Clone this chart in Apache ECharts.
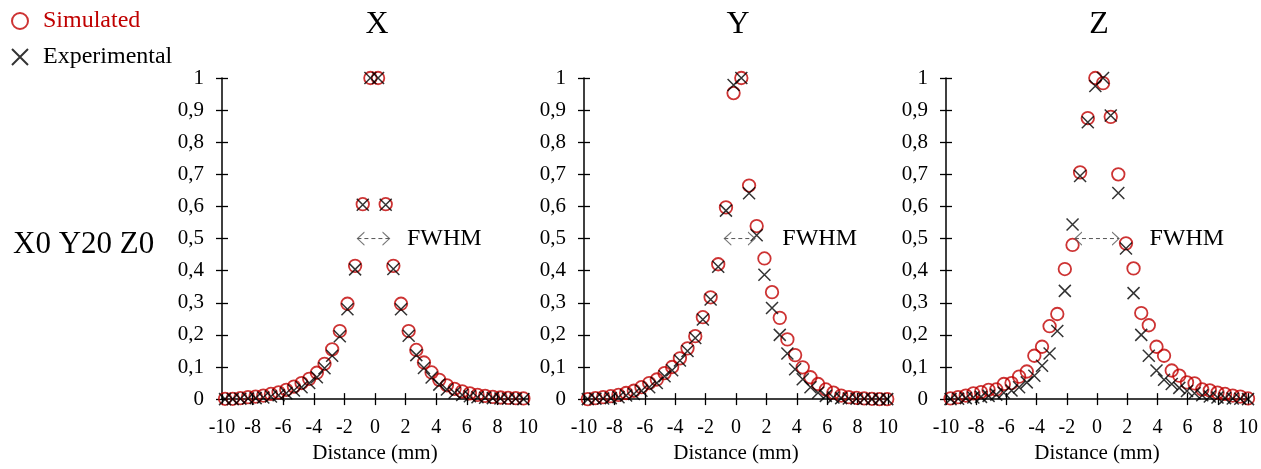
<!DOCTYPE html>
<html>
<head>
<meta charset="utf-8">
<script src="https://cdn.jsdelivr.net/npm/echarts@6/dist/echarts.min.js"></script>
<style>
  html, body { margin: 0; padding: 0; background: #fff; }
  #chart { width: 1261px; height: 469px; }
</style>
</head>
<body>
<div id="chart"></div>
<script>
// Normalised dose profiles along X, Y and Z (distance in mm)
const panelTitles = ['X', 'Y', 'Z'];
const caseLabel = 'X0 Y20 Z0';
const xTickLabels = ['-10', '-8', '-6', '-4', '-2', '0', '2', '4', '6', '8', '10'];
const yTickLabels = ['0', '0,1', '0,2', '0,3', '0,4', '0,5', '0,6', '0,7', '0,8', '0,9', '1'];

// Sample positions (mm) for each profile
const posX = [-9.8, -9.3, -8.8, -8.3, -7.8, -7.3, -6.8, -6.3, -5.8, -5.3,
  -4.8, -4.3, -3.8, -3.3, -2.8, -2.3, -1.8, -1.3, -0.8, -0.3,
  0.2, 0.7, 1.2, 1.7, 2.2, 2.7, 3.2, 3.7, 4.2, 4.7,
  5.2, 5.7, 6.2, 6.7, 7.2, 7.7, 8.2, 8.7, 9.2, 9.7];
const posY = [-9.75, -9.25, -8.74, -8.24, -7.73, -7.23, -6.72, -6.22, -5.71, -5.21,
  -4.7, -4.2, -3.69, -3.19, -2.68, -2.18, -1.67, -1.17, -0.66, -0.16,
  0.35, 0.86, 1.36, 1.87, 2.37, 2.88, 3.38, 3.89, 4.39, 4.9,
  5.4, 5.91, 6.41, 6.92, 7.42, 7.93, 8.43, 8.94, 9.44, 9.95];
const posZ = [-9.7, -9.2, -8.69, -8.19, -7.68, -7.18, -6.67, -6.17, -5.66, -5.16,
  -4.65, -4.15, -3.64, -3.14, -2.63, -2.13, -1.62, -1.12, -0.61, -0.11,
  0.4, 0.91, 1.41, 1.92, 2.42, 2.93, 3.43, 3.94, 4.44, 4.95,
  5.45, 5.96, 6.46, 6.97, 7.47, 7.98, 8.48, 8.99, 9.49, 10.0];

// Simulated profiles
const simX = [0.001, 0.001, 0.003, 0.006, 0.008, 0.011, 0.016, 0.021, 0.029, 0.039,
  0.05, 0.063, 0.082, 0.11, 0.155, 0.212, 0.297, 0.415, 0.607, 1.0,
  1.0, 0.607, 0.415, 0.297, 0.212, 0.153, 0.114, 0.083, 0.06, 0.043,
  0.032, 0.024, 0.018, 0.013, 0.01, 0.007, 0.005, 0.004, 0.003, 0.002];
const simY = [0, 0.003, 0.006, 0.009, 0.013, 0.019, 0.026, 0.037, 0.05, 0.061,
  0.081, 0.1, 0.127, 0.158, 0.196, 0.255, 0.317, 0.42, 0.597, 0.953,
  1.0, 0.665, 0.539, 0.438, 0.333, 0.253, 0.186, 0.137, 0.099, 0.068,
  0.047, 0.03, 0.02, 0.011, 0.006, 0.004, 0.002, 0.001, 0, 0];
const simZ = [0.002, 0.006, 0.011, 0.018, 0.022, 0.029, 0.03, 0.047, 0.05, 0.07,
  0.086, 0.135, 0.163, 0.227, 0.265, 0.405, 0.48, 0.706, 0.875, 1.0,
  0.984, 0.879, 0.7, 0.485, 0.407, 0.268, 0.23, 0.163, 0.135, 0.089,
  0.073, 0.052, 0.049, 0.03, 0.027, 0.02, 0.016, 0.011, 0.008, 0.002];

// Experimental profiles
const expX = [0, 0, 0.001, 0.002, 0.003, 0.005, 0.008, 0.012, 0.018, 0.027,
  0.037, 0.05, 0.068, 0.096, 0.135, 0.196, 0.28, 0.404, 0.605, 1.0,
  1.0, 0.605, 0.405, 0.28, 0.197, 0.137, 0.097, 0.067, 0.045, 0.03,
  0.02, 0.013, 0.009, 0.006, 0.004, 0.003, 0.002, 0.001, 0.001, 0];
const expY = [0, 0.001, 0.002, 0.003, 0.006, 0.011, 0.016, 0.026, 0.037, 0.05,
  0.071, 0.09, 0.12, 0.15, 0.19, 0.248, 0.31, 0.412, 0.587, 0.978,
  1.0, 0.641, 0.51, 0.387, 0.284, 0.2, 0.142, 0.093, 0.062, 0.037,
  0.02, 0.01, 0.005, 0.003, 0.002, 0.001, 0.001, 0, 0, 0];
const expZ = [0, 0.001, 0.003, 0.005, 0.007, 0.01, 0.014, 0.02, 0.027, 0.037,
  0.052, 0.073, 0.104, 0.142, 0.212, 0.337, 0.544, 0.695, 0.862, 0.975,
  1.0, 0.883, 0.642, 0.469, 0.33, 0.2, 0.135, 0.089, 0.06, 0.047,
  0.035, 0.025, 0.018, 0.012, 0.008, 0.005, 0.003, 0.002, 0.001, 0];

// FWHM arrow end points (mm) at half maximum
const fwhmLevel = 0.5;
const fwhmX = [-1.15, 0.95];
const fwhmY = [-0.77, 1.25];
const fwhmZ = [-1.46, 1.46];

const RED = '#c00000';
const FONT = '"Liberation Serif", "Times New Roman", serif';
const CROSS = 'path://M0,0L10,10M10,0L0,10';
const CHEV_L = 'path://M7,0L0,6L7,12';
const CHEV_R = 'path://M0,0L7,6L0,12';

const panels = [
  { title: panelTitles[0], pos: posX, sim: simX, exp: expX, fwhm: fwhmX, left: 222, width: 306, gap: 17 },
  { title: panelTitles[1], pos: posY, sim: simY, exp: expY, fwhm: fwhmY, left: 584, width: 304, gap: 27 },
  { title: panelTitles[2], pos: posZ, sim: simZ, exp: expZ, fwhm: fwhmZ, left: 946, width: 302, gap: 30 }
];

const pairs = (xs, ys) => xs.map((x, i) => [x, ys[i]]);

const grid = [], xAxis = [], yAxis = [], series = [], title = [];
const axisColor = '#000';

panels.forEach((p, i) => {
  grid.push({ left: p.left, width: p.width, top: 78, height: 324 });

  title.push({
    text: p.title, left: p.left + p.width / 2 + 2, top: 9, padding: 0, textAlign: 'center',
    textStyle: { fontFamily: FONT, fontSize: 32, fontWeight: 'normal', color: '#000' }
  });

  const xBase = {
    type: 'value', gridIndex: i, min: -10, max: 10, interval: 2, position: 'bottom',
    splitLine: { show: false }
  };
  xAxis.push(Object.assign({}, xBase, {
    axisLine: { onZero: false, lineStyle: { color: axisColor, width: 1.5 } },
    axisTick: { length: 6, lineStyle: { color: axisColor, width: 1.3 } },
    axisLabel: {
      margin: 19, fontFamily: FONT, fontSize: 20, color: '#000',
      formatter: v => xTickLabels[Math.round((v + 10) / 2)]
    },
    name: 'Distance (mm)', nameLocation: 'middle', nameGap: 41,
    nameTextStyle: { fontFamily: FONT, fontSize: 21, color: '#000' }
  }));
  xAxis.push(Object.assign({}, xBase, {
    axisLine: { show: false, onZero: false },
    axisTick: { inside: true, length: 6, lineStyle: { color: axisColor, width: 1.3 } },
    axisLabel: { show: false }
  }));

  const yBase = {
    type: 'value', gridIndex: i, min: 0, max: 1, interval: 0.1, position: 'left',
    splitLine: { show: false }
  };
  yAxis.push(Object.assign({}, yBase, {
    axisLine: { onZero: false, lineStyle: { color: axisColor, width: 1.5 } },
    axisTick: { length: 6, lineStyle: { color: axisColor, width: 1.3 } },
    axisLabel: {
      margin: 18, fontFamily: FONT, fontSize: 21, color: '#000',
      formatter: v => yTickLabels[Math.round(v * 10)]
    }
  }));
  yAxis.push(Object.assign({}, yBase, {
    axisLine: { show: false, onZero: false },
    axisTick: { inside: true, length: 6, lineStyle: { color: axisColor, width: 1.3 } },
    axisLabel: { show: false }
  }));

  const xi = 2 * i, yi = 2 * i;

  series.push({
    name: 'Simulated', type: 'scatter', xAxisIndex: xi, yAxisIndex: yi,
    symbol: 'circle', symbolSize: 12.5,
    itemStyle: { color: 'rgba(0,0,0,0)', borderColor: RED, borderWidth: 1.8 },
    data: pairs(p.pos, p.sim)
  });
  series.push({
    name: 'Experimental', type: 'scatter', xAxisIndex: xi, yAxisIndex: yi,
    symbol: CROSS, symbolSize: 12,
    itemStyle: { color: 'rgba(0,0,0,0)', borderColor: '#000', borderWidth: 1.5 },
    data: pairs(p.pos, p.exp)
  });

  // FWHM double arrow: dashed shaft plus open chevrons, labelled on the right
  series.push({
    name: 'fwhm-shaft-' + i, type: 'line', xAxisIndex: xi, yAxisIndex: yi,
    showSymbol: false, silent: true,
    lineStyle: { color: '#555', width: 1, type: [4, 3] },
    data: [[p.fwhm[0], fwhmLevel], [p.fwhm[1], fwhmLevel]]
  });
  series.push({
    name: 'fwhm-heads-' + i, type: 'scatter', xAxisIndex: xi, yAxisIndex: yi, silent: true,
    itemStyle: { color: 'rgba(0,0,0,0)', borderColor: '#555', borderWidth: 1 },
    data: [
      { value: [p.fwhm[0], fwhmLevel], symbol: CHEV_L, symbolSize: [7, 13], symbolOffset: [3.5, 0] },
      {
        value: [p.fwhm[1], fwhmLevel], symbol: CHEV_R, symbolSize: [7, 13], symbolOffset: [-3.5, 0],
        label: {
          show: true, position: 'right', distance: p.gap, formatter: 'FWHM',
          fontFamily: FONT, fontSize: 24, color: '#000', opacity: 1, textBorderWidth: 0
        }
      }
    ]
  });
});

title.push({
  text: caseLabel, left: 13, top: 229, padding: 0,
  textStyle: { fontFamily: FONT, fontSize: 31, fontWeight: 'normal', color: '#000' }
});

const option = {
  animation: false,
  backgroundColor: '#fff',
  title: title,
  legend: {
    orient: 'vertical', left: 11, top: 9, padding: 0,
    itemWidth: 16, itemHeight: 16, itemGap: 12,
    textStyle: { fontFamily: FONT, fontSize: 24, color: '#000', padding: [0, 0, 0, 10] },
    data: [
      { name: 'Simulated', textStyle: { color: RED } },
      { name: 'Experimental' }
    ]
  },
  grid: grid,
  xAxis: xAxis,
  yAxis: yAxis,
  series: series
};

const chart = echarts.init(document.getElementById('chart'), null, { renderer: 'canvas' });
chart.setOption(option);
</script>
</body>
</html>
